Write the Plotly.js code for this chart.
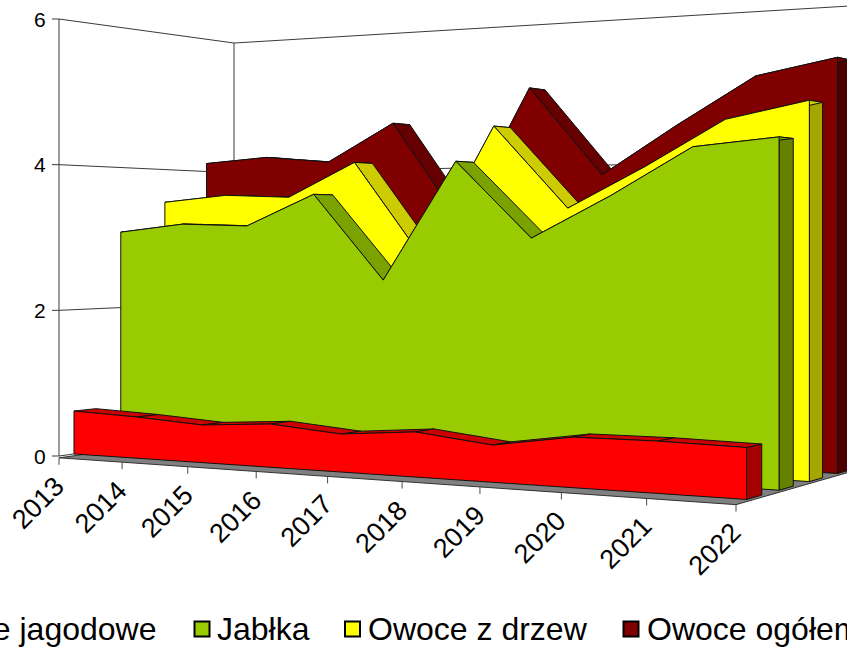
<!DOCTYPE html>
<html>
<head>
<meta charset="utf-8">
<script src="https://cdn.plot.ly/plotly-3.0.1.min.js"></script>
<style>html,body{margin:0;padding:0;background:#fff;overflow:hidden}#chart{width:847px;height:647px}</style>
</head>
<body>
<div id="chart"></div>
<script>
// ---------- data ----------
var years = ['2013','2014','2015','2016','2017','2018','2019','2020','2021','2022'];
var owoceJagodowe = [0.595,0.56,0.501,0.564,0.485,0.564,0.455,0.605,0.612,0.593];
var jablka = [3.077,3.187,3.157,3.579,2.434,3.981,2.986,3.509,4.091,4.182];
var owoceZDrzew = [3.519,3.609,3.569,4.041,2.715,4.483,3.378,3.90,4.473,4.674];
var owoceOgolem = [4.12,4.19,4.10,4.634,3.217,5.056,3.84,4.483,5.086,5.277];
var valueTicks = [0,2,4,6];
var seriesNames = ['Owoce jagodowe','Jabłka','Owoce z drzew','Owoce ogółem'];
var faceColors = ['#FF0000','#99CC00','#FFFF00','#800000'];
var bandColors = ['#CC0000','#7AA300','#CCCC00','#660000'];
var capColors  = ['#A60000','#668000','#A6A600','#4D0000'];

// ---------- 3D box projection (the category/value/depth axes) ----------
var V_MAX = 6;
function project(u, value, d) {
  var v = value / V_MAX;
  var w = 1 - 0.178 * u + 0.1226 * d;
  return [(59 + 546 * u + 203.7 * d) / w,
          (456 - 43 * u - 437 * v + 29.3 * d) / w];
}
var n = years.length;
function uOf(i) { return i / (n - 1); }
var FRONT0 = 0.077, STEP = 0.25, DEPTH = 0.115;

function poly(points, fill, lineColor, lineWidth) {
  var xs = [], ys = [];
  points.forEach(function (p) {
    xs.push(p ? p[0] : null);
    ys.push(p ? p[1] : null);
  });
  return {
    type: 'scatter', mode: 'lines', x: xs, y: ys,
    fill: fill ? 'toself' : 'none', fillcolor: fill || undefined,
    line: { color: lineColor, width: lineWidth, shape: 'linear' },
    hoverinfo: 'skip', showlegend: false, connectgaps: false
  };
}

var traces = [];

// floor, with its thin slab
var floorV = -0.025;
traces.push(poly([project(0, floorV, 0), project(1, floorV, 0), project(1, floorV, 1), project(0, floorV, 1), project(0, floorV, 0)], '#808080', '#333333', 1));

// walls and gridlines
var wall = [];
valueTicks.forEach(function (t) {
  wall.push(project(0, t, 0), project(0, t, 1), project(1, t, 1), null);
  wall.push([project(0, t, 0)[0] - 7, project(0, t, 0)[1]], project(0, t, 0), null);
});
wall.push(project(0, 0, 0), project(0, V_MAX, 0), null);
wall.push(project(0, 0, 1), project(0, V_MAX, 1), null);
traces.push(poly(wall, null, '#3a3a3a', 1));

// category ticks
var xt = [];
years.forEach(function (y, i) {
  var p = project(uOf(i), floorV, 0);
  xt.push(p, [p[0], p[1] + 7], null);
});
traces.push(poly(xt, null, '#4a4a4a', 1));

// series, back to front
var allSeries = [owoceJagodowe, jablka, owoceZDrzew, owoceOgolem];
for (var k = allSeries.length - 1; k >= 0; k--) {
  var vals = allSeries[k];
  var df = FRONT0 + STEP * k, db = df + DEPTH;
  // right end cap
  var last = vals[n - 1];
  traces.push(poly([project(1, 0, df), project(1, last, df), project(1, last, db), project(1, 0, db), project(1, 0, df)], capColors[k], '#111111', 1));
  // top band, one quad per segment
  for (var i = 0; i < n - 1; i++) {
    traces.push(poly([project(uOf(i), vals[i], df), project(uOf(i + 1), vals[i + 1], df),
              project(uOf(i + 1), vals[i + 1], db), project(uOf(i), vals[i], db),
              project(uOf(i), vals[i], df)], bandColors[k], '#111111', 1));
  }
  // front face
  var face = [];
  for (var j = 0; j < n; j++) face.push(project(uOf(j), vals[j], df));
  face.push(project(1, 0, df), project(0, 0, df), project(0, vals[0], df));
  traces.push(poly(face, faceColors[k], '#111111', 1));
}

// legend swatches
var swatchX = [-95, 202, 352.5, 631];
var legendTextX = [158, 215, 366, 645];
traces.push({
  type: 'scatter', mode: 'markers', x: swatchX, y: swatchX.map(function () { return 629; }),
  marker: { symbol: 'square', size: 15, color: faceColors, line: { color: '#000', width: 2 } },
  hoverinfo: 'skip', showlegend: false
});

var FONT = 'Liberation Sans, Arial, sans-serif';
var annotations = [];
valueTicks.forEach(function (t) {
  var p = project(0, t, 0);
  annotations.push({ xref: 'x', yref: 'y', x: 48, y: p[1], text: String(t), showarrow: false,
    xanchor: 'right', yanchor: 'middle', font: { family: FONT, size: 21, color: '#000' } });
});
years.forEach(function (y, i) {
  var p = project(uOf(i), 0, 0);
  annotations.push({ xref: 'x', yref: 'y', x: p[0] - 21, y: p[1] + 47, text: y, showarrow: false, textangle: -45,
    xanchor: 'center', yanchor: 'middle', font: { family: FONT, size: 27, color: '#000' } });
});
seriesNames.forEach(function (name, i) {
  annotations.push({ xref: 'x', yref: 'y', x: legendTextX[i], y: 629, text: name, showarrow: false,
    xanchor: i === 0 ? 'right' : 'left', yanchor: 'middle', font: { family: FONT, size: 32, color: '#000' } });
});

Plotly.newPlot('chart', traces, {
  width: 847, height: 647,
  margin: { l: 0, r: 0, t: 0, b: 0 },
  paper_bgcolor: '#fff', plot_bgcolor: '#fff',
  showlegend: false,
  xaxis: { range: [0, 847], visible: false, fixedrange: true },
  yaxis: { range: [647, 0], visible: false, fixedrange: true },
  annotations: annotations
}, { displayModeBar: false, staticPlot: true });
</script>
</body>
</html>
